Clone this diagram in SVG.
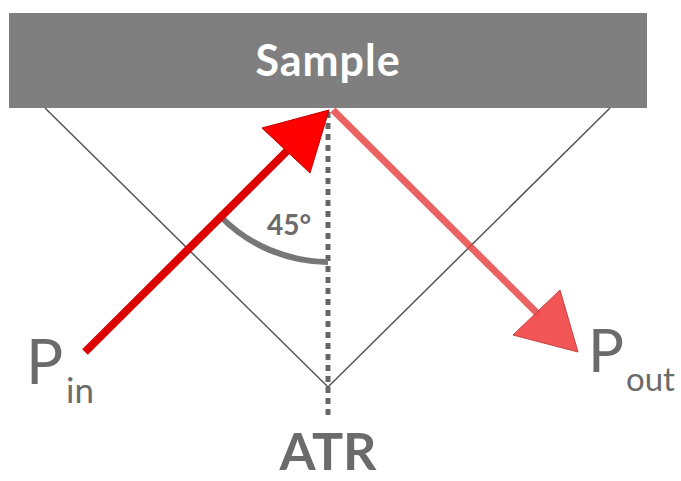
<svg xmlns="http://www.w3.org/2000/svg" width="681" height="481" viewBox="0 0 681 481">
<style>
.lbl{font-family:Lato,"Open Sans","Liberation Sans",sans-serif;fill:#6b6b6b}
.thin{stroke:#555;stroke-width:1.5;fill:none}
</style>
<rect width="681" height="481" fill="#fff"/>
<g id="crystal">
<line class="thin" x1="45" y1="108" x2="328" y2="387"/>
<line class="thin" x1="610" y1="108" x2="328" y2="387"/>
</g>
<g id="sample">
<rect x="9" y="13" width="638" height="95" fill="#7f7f7f"/>
<text x="328" y="76" text-anchor="middle" font-family="Lato,'Open Sans','Liberation Sans',sans-serif" font-weight="bold" font-size="43" letter-spacing="1" fill="#fff">Sample</text>
</g>
<g id="connectors">
<line x1="328" y1="112" x2="328" y2="420" stroke="#666" stroke-width="5" stroke-dasharray="6,5"/>
<path d="M221,217 A152,152 0 0 0 328,262" fill="none" stroke="#777" stroke-width="6"/>
<line x1="333" y1="110" x2="540" y2="316" stroke="#e64040" stroke-width="7" stroke-opacity="0.82"/>
<polygon points="578,352 513,335 560,290" fill="#f04c4c" fill-opacity="0.95" stroke="#c84040" stroke-width="1"/>
<line x1="85" y1="352" x2="292" y2="146" stroke="#dd0000" stroke-width="8"/>
<polygon points="329,110 262,128 310,173" fill="#ff0000" stroke="#c00000" stroke-width="1"/>
</g>
<g id="labels">
<text class="lbl" x="289" y="235" text-anchor="middle" font-weight="bold" font-size="28">45°</text>
<text class="lbl" x="328" y="470" text-anchor="middle" font-weight="bold" font-size="52">ATR</text>
<text class="lbl" x="26" y="384" font-size="62">P</text>
<text class="lbl" x="66" y="403" font-size="35">in</text>
<text class="lbl" x="588" y="372" font-size="60">P</text>
<text class="lbl" x="626" y="391" font-size="33">out</text>
</g>
</svg>
